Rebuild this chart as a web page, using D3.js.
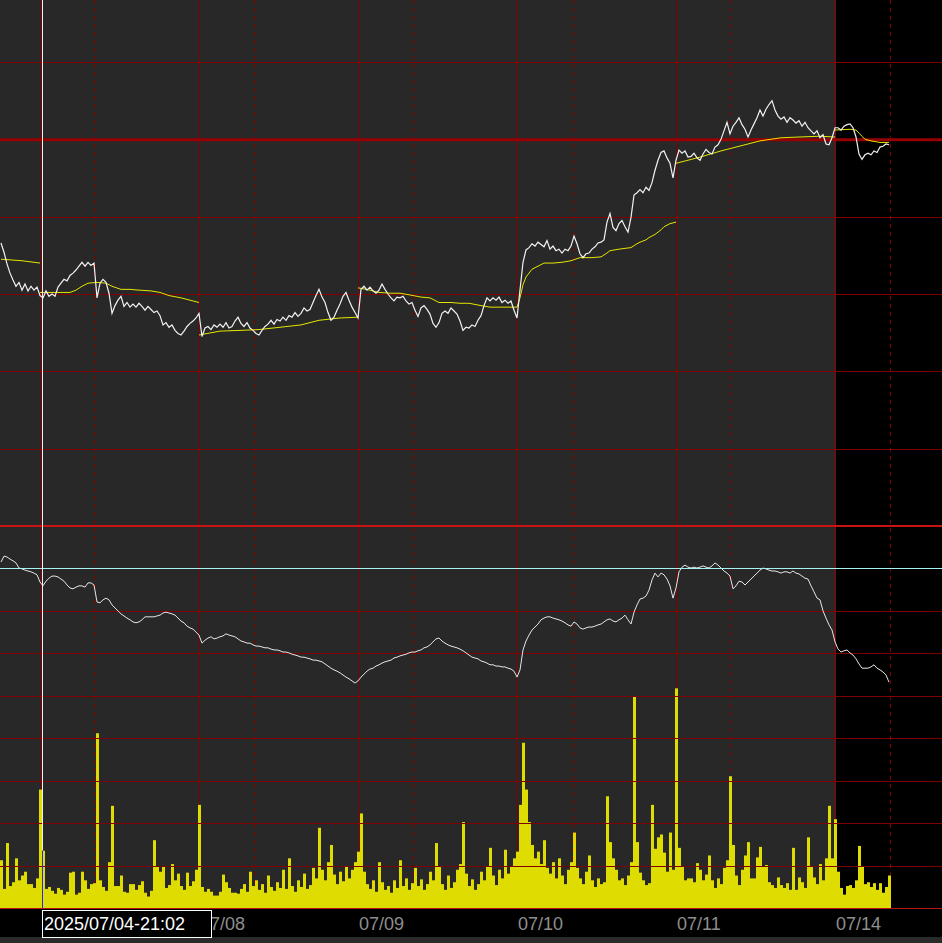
<!DOCTYPE html>
<html>
<head>
<meta charset="utf-8">
<title>chart</title>
<script src="https://cdn.jsdelivr.net/npm/d3@7/dist/d3.min.js"></script>
<style>
  body { margin: 0; background: #000; }
  svg { display: block; }
</style>
</head>
<body>
<div id="chart"></div>
<script>
// one sample per bar, oldest on the left
var price = [
  39766, 39754, 39739, 39727, 39718, 39710, 39715, 39705, 39713, 39704,
  39710, 39705, 39709, 39698, 39695, 39704, 39697, 39700, 39697, 39709,
  39714, 39719, 39717, 39724, 39727, 39731, 39736, 39741, 39736, 39741,
  39737, 39740, 39695, 39714, 39719, 39715, 39701, 39675, 39685, 39692,
  39697, 39684, 39689, 39683, 39687, 39683, 39688, 39684, 39679, 39684,
  39680, 39676, 39678, 39672, 39660, 39663, 39657, 39660, 39653, 39649,
  39647, 39652, 39658, 39662, 39665, 39669, 39675, 39645, 39656, 39658,
  39654, 39660, 39657, 39661, 39657, 39663, 39656, 39658, 39665, 39670,
  39662, 39658, 39663, 39656, 39653, 39649, 39647, 39653, 39658, 39661,
  39666, 39661, 39667, 39665, 39670, 39666, 39672, 39670, 39676, 39671,
  39675, 39682, 39678, 39680, 39689, 39698, 39706, 39696, 39689, 39676,
  39666, 39670, 39679, 39687, 39697, 39702, 39692, 39683, 39676, 39669,
  39706, 39710, 39705, 39709, 39704, 39701, 39705, 39713, 39706, 39700,
  39695, 39691, 39696, 39695, 39697, 39691, 39687, 39689, 39679, 39671,
  39682, 39685, 39680, 39674, 39662, 39657, 39663, 39675, 39678, 39675,
  39682, 39678, 39674, 39665, 39653, 39657, 39656, 39660, 39658, 39666,
  39672, 39685, 39695, 39691, 39695, 39692, 39696, 39689, 39692, 39688,
  39691, 39679, 39669, 39705, 39741, 39757, 39760, 39765, 39762, 39767,
  39764, 39761, 39769, 39758, 39762, 39756, 39758, 39753, 39758, 39756,
  39762, 39775, 39765, 39752, 39747, 39752, 39753, 39758, 39761, 39766,
  39767, 39770, 39793, 39804, 39786, 39782, 39791, 39795, 39787, 39780,
  39799, 39828, 39831, 39835, 39831, 39838, 39834, 39844, 39860, 39873,
  39883, 39885, 39876, 39869, 39850, 39873, 39886, 39882, 39885, 39877,
  39878, 39882, 39876, 39873, 39881, 39887, 39883, 39881, 39890, 39893,
  39900, 39911, 39922, 39907, 39917, 39922, 39928, 39919, 39913, 39903,
  39912, 39920, 39928, 39938, 39930, 39939, 39945, 39950, 39938, 39930,
  39926, 39929, 39922, 39928, 39925, 39921, 39924, 39917, 39922, 39915,
  39911, 39907, 39911, 39902, 39906, 39894, 39893, 39902, 39915, 39915,
  39912, 39917, 39919, 39920, 39915, 39903, 39881, 39874, 39880, 39882,
  39880, 39885, 39883, 39890, 39891, 39894, 39893
];

// session average, restarted each trading day: [bar, price]
var vwapDay0 = [[0, 39745], [7, 39743], [13, 39740]];
var vwapDay1 = [[13, 39702], [23, 39702], [25, 39705], [27, 39710], [29, 39714], [32, 39715], [35, 39714], [37, 39710], [40, 39706], [43, 39706], [46, 39705], [50, 39704], [53, 39702], [56, 39698], [60, 39695], [63, 39692], [66, 39689]];
var vwapDay2 = [[66, 39647], [73, 39652], [80, 39653], [86, 39654], [93, 39657], [100, 39660], [106, 39666], [113, 39669], [119, 39670]];
var vwapDay3 = [[119, 39708], [123, 39705], [126, 39702], [130, 39701], [133, 39701], [136, 39699], [140, 39696], [143, 39695], [146, 39689], [150, 39689], [153, 39688], [156, 39688], [160, 39685], [163, 39683], [167, 39683], [172, 39683]];
var vwapDay4 = [[172, 39683], [173, 39695], [174, 39712], [175, 39722], [177, 39732], [179, 39736], [181, 39740], [184, 39740], [187, 39741], [190, 39743], [193, 39747], [197, 39747], [200, 39748], [202, 39753], [203, 39756], [206, 39758], [210, 39760], [212, 39765], [213, 39767], [215, 39770], [216, 39773], [218, 39777], [220, 39783], [221, 39787], [223, 39791], [225, 39793]];
var vwapDay5 = [[225, 39869], [228, 39872], [233, 39877], [240, 39885], [246, 39891], [253, 39898], [260, 39902], [266, 39903], [273, 39904], [278, 39903]];
var vwapDay6 = [[278, 39912], [283, 39913], [285, 39912], [286, 39908], [287, 39904], [288, 39900], [290, 39898], [293, 39896], [296, 39896]];

// lower pane oscillator
var flow = [
  81.5, 82.9, 82.7, 82.2, 81.8, 81.3, 80.1, 79.9, 79.6, 79.4,
  79.2, 78.9, 78.5, 76.8, 75.9, 77.0, 77.7, 78.2, 78.2, 78.0,
  77.5, 77.0, 76.1, 75.4, 75.2, 75.6, 75.9, 75.9, 75.6, 76.6,
  76.6, 76.1, 72.1, 71.9, 72.6, 73.0, 72.6, 71.4, 70.7, 70.0,
  69.3, 68.8, 68.3, 67.9, 67.4, 67.2, 67.4, 67.9, 68.6, 68.6,
  68.6, 68.6, 68.8, 69.0, 69.5, 69.7, 69.5, 69.3, 69.0, 68.3,
  67.6, 67.2, 66.4, 66.0, 65.7, 65.0, 64.3, 62.4, 63.1, 63.6,
  63.9, 63.4, 63.6, 63.9, 64.1, 64.6, 64.3, 64.1, 63.9, 63.4,
  62.9, 62.7, 62.4, 62.4, 62.0, 61.7, 61.7, 61.5, 61.3, 61.3,
  61.0, 60.8, 60.8, 60.6, 60.3, 60.3, 60.1, 59.8, 59.6, 59.4,
  59.1, 59.1, 58.9, 58.7, 58.4, 58.4, 58.2, 58.0, 57.5, 57.0,
  56.5, 56.1, 55.8, 55.4, 54.9, 54.4, 54.0, 53.5, 53.0, 53.5,
  54.4, 55.1, 55.8, 56.3, 56.5, 57.0, 57.3, 57.7, 58.0, 58.2,
  58.4, 58.9, 59.1, 59.4, 59.6, 59.8, 60.1, 60.3, 60.3, 60.6,
  60.8, 61.3, 61.5, 62.0, 62.7, 63.4, 63.6, 62.9, 62.4, 62.0,
  61.7, 61.5, 61.3, 61.0, 60.6, 60.1, 59.6, 59.1, 58.9, 58.7,
  58.2, 58.0, 57.7, 57.3, 57.3, 57.0, 57.0, 56.8, 56.8, 56.5,
  56.3, 55.8, 54.4, 56.1, 60.8, 62.9, 64.3, 65.5, 66.2, 66.9,
  67.9, 68.3, 68.6, 68.6, 68.3, 68.1, 67.9, 67.6, 67.2, 66.7,
  66.4, 67.4, 66.9, 66.0, 65.7, 66.0, 66.2, 66.2, 66.4, 66.7,
  66.9, 67.4, 67.9, 68.1, 67.6, 67.4, 67.9, 68.3, 69.0, 67.9,
  66.9, 69.7, 71.4, 72.8, 73.0, 73.5, 74.9, 77.3, 78.9, 78.0,
  78.9, 78.5, 77.5, 75.9, 73.0, 75.4, 79.2, 80.3, 80.8, 80.3,
  80.1, 80.3, 80.1, 80.3, 80.6, 80.3, 80.1, 80.6, 81.3, 80.8,
  80.1, 79.4, 78.9, 78.2, 75.2, 75.9, 77.0, 76.8, 76.1, 76.8,
  77.5, 78.2, 78.9, 79.6, 80.1, 79.9, 79.6, 79.4, 79.4, 79.2,
  78.9, 79.2, 79.2, 78.9, 79.4, 78.9, 78.7, 78.2, 77.7, 77.5,
  75.9, 74.5, 73.0, 72.6, 70.0, 68.3, 66.7, 65.5, 62.7, 61.0,
  60.3, 60.6, 60.8, 60.1, 59.6, 58.7, 57.5, 56.5, 56.5, 56.5,
  56.8, 57.3, 56.5, 56.1, 55.6, 54.9, 53.2
];

var volume = [
  50, 20, 68, 23, 27, 52, 29, 34, 38, 25,
  25, 21, 31, 124, 60, 20, 22, 18, 15, 21,
  19, 14, 17, 37, 38, 14, 16, 38, 29, 20,
  25, 26, 183, 29, 22, 18, 48, 107, 23, 23,
  34, 17, 16, 25, 25, 19, 24, 28, 16, 12,
  18, 71, 44, 38, 44, 21, 24, 46, 29, 36,
  23, 19, 37, 23, 28, 40, 108, 22, 17, 20,
  17, 13, 13, 17, 35, 27, 21, 16, 16, 15,
  20, 25, 17, 38, 23, 29, 19, 25, 16, 34,
  22, 18, 27, 21, 40, 20, 52, 23, 17, 29,
  22, 36, 20, 24, 42, 31, 84, 40, 29, 48,
  66, 35, 25, 38, 28, 44, 31, 40, 48, 59,
  99, 38, 25, 20, 29, 17, 48, 27, 19, 23,
  16, 29, 21, 50, 23, 31, 19, 26, 42, 23,
  30, 19, 25, 38, 29, 68, 44, 25, 19, 34,
  21, 27, 40, 46, 90, 36, 23, 30, 19, 25,
  38, 29, 44, 63, 34, 24, 40, 31, 61, 36,
  44, 52, 59, 108, 173, 124, 90, 66, 52, 59,
  46, 71, 42, 36, 48, 31, 52, 34, 25, 40,
  48, 79, 42, 31, 25, 38, 55, 29, 22, 31,
  25, 27, 117, 69, 52, 40, 29, 31, 24, 34,
  48, 222, 69, 37, 29, 24, 26, 108, 62, 74,
  77, 58, 38, 79, 40, 230, 63, 43, 29, 31,
  31, 27, 47, 40, 29, 35, 55, 29, 21, 31,
  25, 42, 50, 138, 66, 34, 24, 40, 55, 69,
  31, 31, 53, 64, 43, 45, 27, 24, 21, 32,
  24, 21, 26, 19, 63, 19, 32, 27, 21, 74,
  43, 32, 25, 46, 29, 52, 107, 52, 93, 38,
  21, 14, 23, 24, 21, 29, 65, 44, 25, 27,
  22, 26, 19, 26, 16, 22, 34
];

var dayStarts = [13, 66, 119, 172, 225, 278];
var dayLabels = ["07/07", "07/08", "07/09", "07/10", "07/11", "07/14"];
var sessionOpens = [31.4, 84.4, 137.4, 190.4, 243.4, 296.4];
var priceGrid = [39500, 39600, 39700, 39800, 39900, 40000];
var refPrice = 39900;
var flowGrid = [10, 20, 30, 40, 50, 60, 70, 80];
var todayStart = 278;
var cursorBar = 14;
var cursorIndex = 13.67;
var cursorLevel = 80;
var cursorLabel = "2025/07/04-21:02";

var width = 942, height = 943;
var axisY = 908;
var boxW = 169;

var x = d3.scaleLinear().domain([0, price.length - 1]).range([1, 889]);
var yPrice = d3.scaleLinear().domain([39400, 40000]).range([526, 62]);
var yFlow = d3.scaleLinear().domain([0, 90]).range([axisY, 526]);
var yVol = d3.scaleLinear().domain([0, 400]).range([axisY, 526]);

function crisp(v) { return Math.round(v) + 0.5; }

var svg = d3.select('#chart')
  .append('svg')
  .attr('width', width)
  .attr('height', height);

// backgrounds: past days grey, current day black
svg.append('rect').attr('width', width).attr('height', height).attr('fill', '#000');
svg.append('rect')
  .attr('x', 0).attr('y', 0)
  .attr('width', Math.round(x(todayStart)))
  .attr('height', axisY)
  .attr('fill', '#282828');
svg.append('rect')
  .attr('x', 0).attr('y', 937)
  .attr('width', width).attr('height', height - 937)
  .attr('fill', '#2a2a2a');

// vertical grid: trading day starts solid, session opens dashed
var vgrid = svg.append('g');
dayStarts.forEach(function(d){
  vgrid.append('line')
    .attr('x1', crisp(x(d))).attr('x2', crisp(x(d)))
    .attr('y1', 0).attr('y2', axisY)
    .attr('stroke', d === todayStart ? '#960000' : '#800000')
    .attr('stroke-width', 1);
});
sessionOpens.forEach(function(d){
  vgrid.append('line')
    .attr('x1', crisp(x(d))).attr('x2', crisp(x(d)))
    .attr('y1', 0).attr('y2', axisY)
    .attr('stroke', '#800000')
    .attr('stroke-dasharray', '4,4')
    .attr('stroke-width', 1);
});

// volume bars
svg.append('g')
  .selectAll('rect')
  .data(volume)
  .enter()
  .append('rect')
    .attr('x', function(d, i){ return Math.round(x(i)) - 1; })
    .attr('y', function(d){ return yVol(d); })
    .attr('width', 3)
    .attr('height', function(d){ return axisY - yVol(d); })
    .attr('fill', '#dedc00');

// horizontal grid
var hgrid = svg.append('g');
priceGrid.forEach(function(v){
  hgrid.append('line')
    .attr('x1', 0).attr('x2', width)
    .attr('y1', crisp(yPrice(v))).attr('y2', crisp(yPrice(v)))
    .attr('stroke', '#800000').attr('stroke-width', 1);
});
flowGrid.forEach(function(v){
  hgrid.append('line')
    .attr('x1', 0).attr('x2', width)
    .attr('y1', crisp(yFlow(v))).attr('y2', crisp(yFlow(v)))
    .attr('stroke', '#800000').attr('stroke-width', 1);
});

// reference price, pane divider, axis base
hgrid.append('line')
  .attr('x1', 0).attr('x2', width)
  .attr('y1', yPrice(refPrice) + 0.5).attr('y2', yPrice(refPrice) + 0.5)
  .attr('stroke', '#980000').attr('stroke-width', 3);
hgrid.append('line')
  .attr('x1', 0).attr('x2', width)
  .attr('y1', yPrice(39400)).attr('y2', yPrice(39400))
  .attr('stroke', '#c81414').attr('stroke-width', 2);
hgrid.append('line')
  .attr('x1', 0).attr('x2', width)
  .attr('y1', axisY + 0.5).attr('y2', axisY + 0.5)
  .attr('stroke', '#b41414').attr('stroke-width', 1);

// session average lines
var vwapLine = d3.line()
  .x(function(d){ return x(d[0]); })
  .y(function(d){ return yPrice(d[1]); });

[vwapDay0, vwapDay1, vwapDay2, vwapDay3, vwapDay4, vwapDay5, vwapDay6].forEach(function(seg){
  svg.append('path')
    .datum(seg)
    .attr('d', vwapLine)
    .attr('fill', 'none')
    .attr('stroke', '#e6e600')
    .attr('stroke-width', 1);
});

// price
svg.append('path')
  .datum(price)
  .attr('d', d3.line()
    .x(function(d, i){ return x(i); })
    .y(function(d){ return yPrice(d); }))
  .attr('fill', 'none')
  .attr('stroke', '#f2f2f2')
  .attr('stroke-width', 1.2);

// lower pane line
svg.append('path')
  .datum(flow)
  .attr('d', d3.line()
    .x(function(d, i){ return x(i); })
    .y(function(d){ return yFlow(d); }))
  .attr('fill', 'none')
  .attr('stroke', '#e6e6e6')
  .attr('stroke-width', 1);

// crosshair
var cx = Math.round(x(cursorIndex));
svg.append('line')
  .attr('x1', 0).attr('x2', width)
  .attr('y1', crisp(yFlow(cursorLevel))).attr('y2', crisp(yFlow(cursorLevel)))
  .attr('stroke', '#a8f2f2').attr('stroke-width', 1);
svg.append('line')
  .attr('x1', cx + 0.5).attr('x2', cx + 0.5)
  .attr('y1', 0).attr('y2', yVol(volume[cursorBar]))
  .attr('stroke', '#f0f0f0').attr('stroke-width', 1);
svg.append('rect')
  .attr('x', cx)
  .attr('y', yVol(volume[cursorBar]))
  .attr('width', 1)
  .attr('height', axisY - yVol(volume[cursorBar]))
  .attr('fill', '#2828ff');

// date labels (those under the cursor box are hidden)
svg.append('g')
  .selectAll('text')
  .data(dayStarts.filter(function(d){ return x(d) + 1 < cx - 40 || x(d) + 1 > cx + boxW - 20; }))
  .enter()
  .append('text')
    .attr('x', function(d){ return Math.round(x(d)) + 1; })
    .attr('y', 930)
    .attr('fill', '#8e8e8e')
    .attr('font-family', '"Liberation Sans", Arial, sans-serif')
    .attr('font-size', 18)
    .text(function(d){ return dayLabels[dayStarts.indexOf(d)]; });

// cursor time box
svg.append('rect')
  .attr('x', cx + 0.5).attr('y', 910.5)
  .attr('width', boxW).attr('height', 27)
  .attr('fill', '#000')
  .attr('stroke', '#fff').attr('stroke-width', 1);
svg.append('text')
  .attr('x', cx + 2).attr('y', 930)
  .attr('fill', '#fff')
  .attr('font-family', '"Liberation Sans", Arial, sans-serif')
  .attr('font-size', 18)
  .text(cursorLabel);
</script>
</body>
</html>
